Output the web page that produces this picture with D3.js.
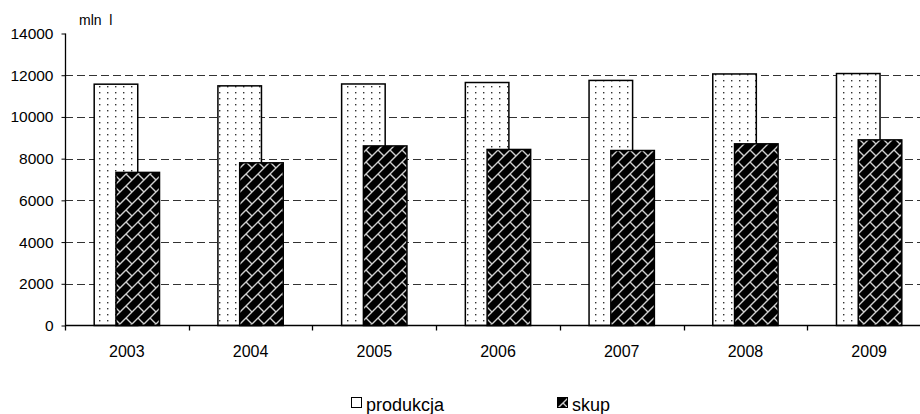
<!DOCTYPE html>
<html>
<head>
<meta charset="utf-8">
<script src="https://cdn.jsdelivr.net/npm/d3@7"></script>
<style>
  body { margin: 0; background: #fff; }
  text { font-family: "Liberation Sans", Arial, sans-serif; fill: #000; }
</style>
</head>
<body>
<div id="area"></div>
<script>
var years = ["2003", "2004", "2005", "2006", "2007", "2008", "2009"];
var produkcja = [11570, 11490, 11580, 11650, 11750, 12060, 12080];
var skup = [7340, 7800, 8610, 8440, 8390, 8710, 8900];
var yTicks = [0, 2000, 4000, 6000, 8000, 10000, 12000, 14000];
var seriesNames = ["produkcja", "skup"];

var width = 920, height = 414;

var svg = d3.select("#area")
  .append("svg")
  .attr("width", width)
  .attr("height", height);

var defs = svg.append("defs");

// dotted fill for produkcja
var dots = defs.append("pattern")
  .attr("id", "dots")
  .attr("patternUnits", "userSpaceOnUse")
  .attr("width", 8).attr("height", 6);
dots.append("rect").attr("width", 8).attr("height", 6).attr("fill", "#fff");
dots.append("rect").attr("x", 3).attr("y", 2).attr("width", 1.4).attr("height", 1.4).attr("fill", "#333");

// diagonal brick fill for skup
var brick = defs.append("pattern")
  .attr("id", "brick")
  .attr("patternUnits", "userSpaceOnUse")
  .attr("width", 24).attr("height", 24);
brick.append("rect").attr("width", 24).attr("height", 24).attr("fill", "#000");
brick.append("path")
  .attr("d", "M-2,14L14,-2M-2,26L26,-2M10,26L26,10M-2,2L2,-2M22,26L26,22" +
             "M6,6L12,12M18,6L24,12M6,18L12,24M18,18L24,24")
  .attr("stroke", "#d0d0d0")
  .attr("stroke-width", 1.4)
  .attr("fill", "none");

var x = d3.scaleBand()
  .domain(years)
  .range([65, 931]);

var y = d3.scaleLinear()
  .domain([0, 14000])
  .range([325.5, 33.5]);

var barW = x.bandwidth() * 0.352;

// gridlines
svg.append("g")
  .selectAll("line")
  .data(yTicks.filter(function (d) { return d > 0 && d < 14000; }))
  .enter()
  .append("line")
  .attr("x1", 65).attr("x2", width)
  .attr("y1", function (d) { return Math.round(y(d)) + 0.5; })
  .attr("y2", function (d) { return Math.round(y(d)) + 0.5; })
  .attr("stroke", "#333")
  .attr("stroke-dasharray", "8,4");

// produkcja bars
svg.append("g")
  .selectAll("rect")
  .data(produkcja)
  .enter()
  .append("rect")
  .attr("x", function (d, i) { return x(years[i]) + x.bandwidth() / 2 - 0.75 * barW; })
  .attr("y", function (d) { return y(d); })
  .attr("width", barW)
  .attr("height", function (d) { return y(0) - y(d); })
  .attr("fill", "url(#dots)")
  .attr("stroke", "#000")
  .attr("stroke-width", 1.5);

// skup bars
svg.append("g")
  .selectAll("rect")
  .data(skup)
  .enter()
  .append("rect")
  .attr("x", function (d, i) { return x(years[i]) + x.bandwidth() / 2 - 0.25 * barW; })
  .attr("y", function (d) { return y(d); })
  .attr("width", barW)
  .attr("height", function (d) { return y(0) - y(d); })
  .attr("fill", "url(#brick)")
  .attr("stroke", "#000")
  .attr("stroke-width", 1.5);

// y axis
var yAxis = d3.axisLeft(y)
  .tickValues(yTicks)
  .tickSize(4)
  .tickPadding(8)
  .tickFormat(d3.format("d"));

svg.append("g")
  .attr("transform", "translate(65.5,0)")
  .call(yAxis)
  .call(function (g) {
    g.select(".domain").attr("d", "M0," + y(14000) + "V" + y(0)).attr("stroke-width", 1.3);
    g.selectAll("text").attr("font-size", 15.5).attr("font-family", "Liberation Sans, Arial, sans-serif");
  });

// x axis
var xAxis = d3.axisBottom(x)
  .tickSize(0)
  .tickPadding(20);

var gx = svg.append("g")
  .attr("transform", "translate(0," + y(0) + ")")
  .call(xAxis);
gx.select(".domain").attr("d", "M65,0H" + width).attr("stroke-width", 1.3);
gx.selectAll("text").attr("font-size", 16).attr("font-family", "Liberation Sans, Arial, sans-serif");

// band boundary ticks
gx.append("g")
  .selectAll("line")
  .data(years)
  .enter()
  .append("line")
  .attr("x1", function (d) { return Math.round(x(d)) + 0.5; })
  .attr("x2", function (d) { return Math.round(x(d)) + 0.5; })
  .attr("y1", 0).attr("y2", 5)
  .attr("stroke", "#000")
  .attr("stroke-width", 1.3);

// unit label
svg.append("text")
  .attr("x", 79).attr("y", 25)
  .attr("font-size", 14)
  .attr("fill", "#000")
  .style("white-space", "pre")
  .text("mln  l");

// legend
var legendX = [351, 557];
var legendFill = ["#fff", "url(#brick)"];
var legend = svg.append("g")
  .selectAll("g")
  .data(seriesNames)
  .enter()
  .append("g")
  .attr("transform", function (d, i) { return "translate(" + legendX[i] + ",397)"; });

legend.append("rect")
  .attr("x", 0.5).attr("y", 0.5)
  .attr("width", 10).attr("height", 10)
  .attr("fill", function (d, i) { return legendFill[i]; })
  .attr("stroke", "#000");

legend.append("text")
  .attr("x", 15).attr("y", 14)
  .attr("font-size", 18)
  .text(function (d) { return d; });
</script>
</body>
</html>
